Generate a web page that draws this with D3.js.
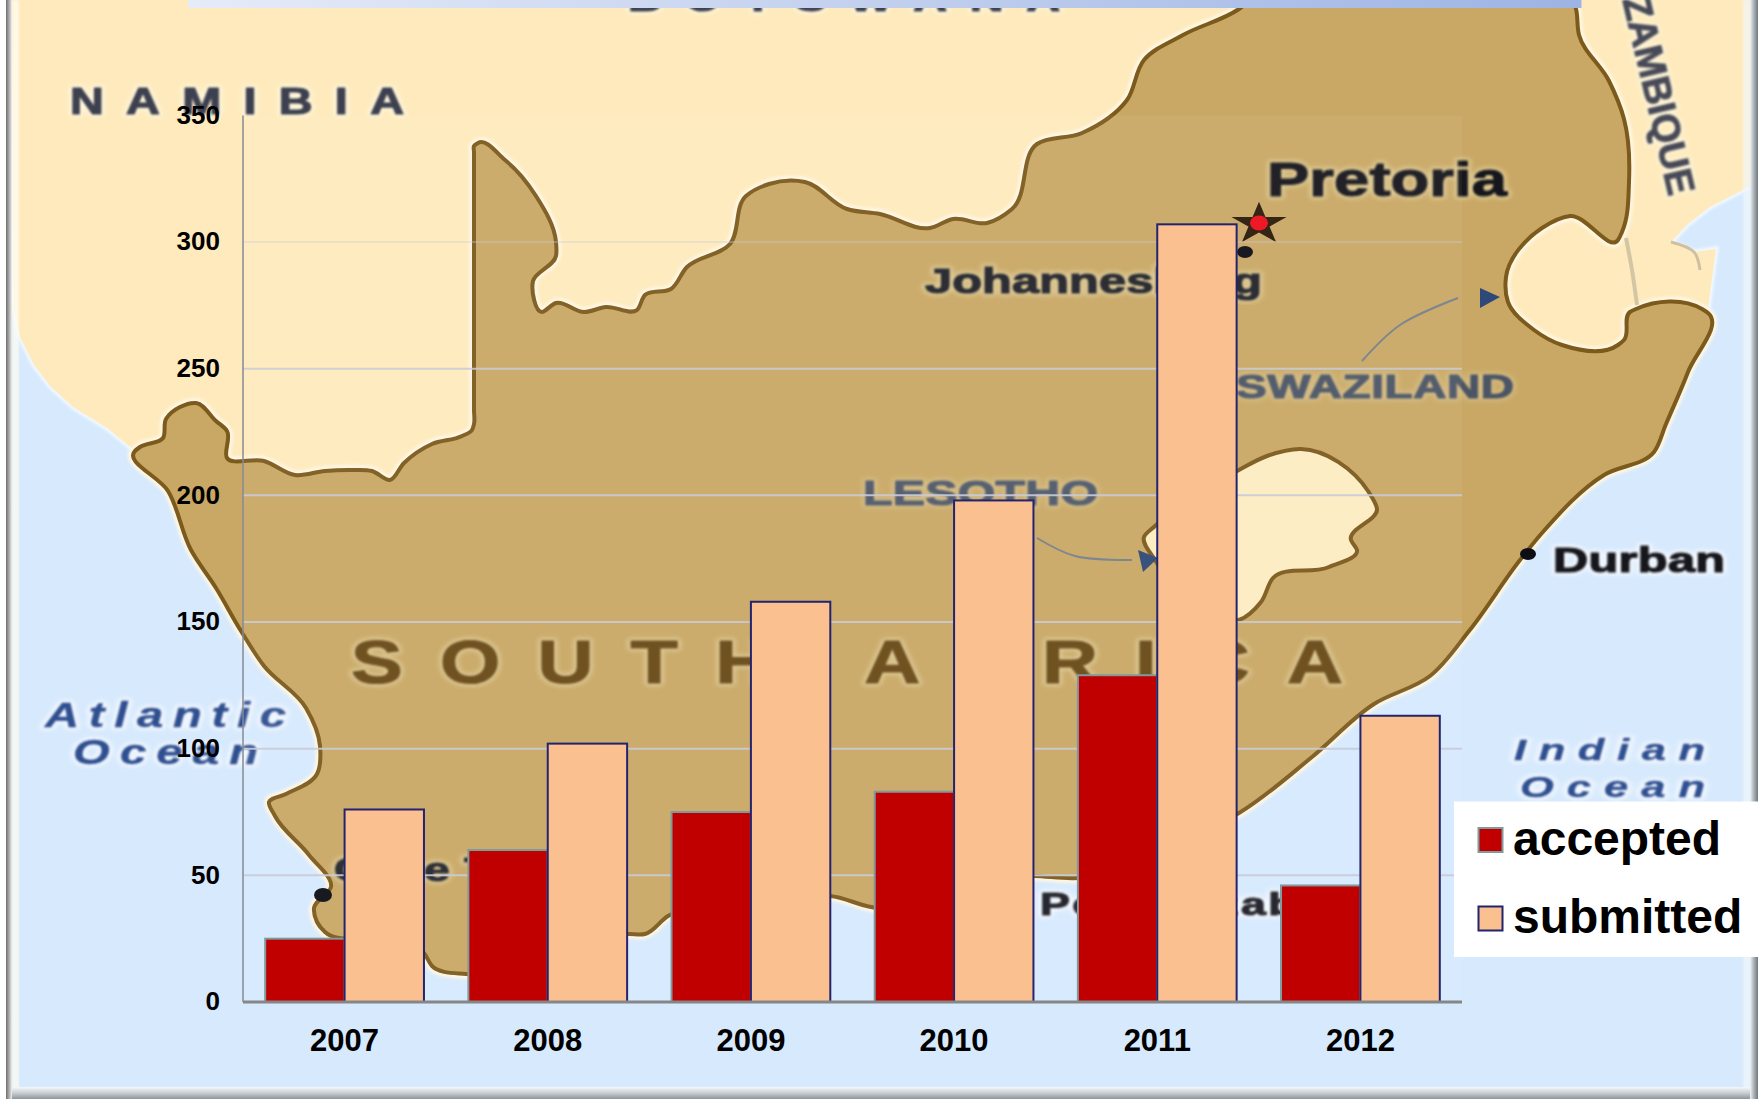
<!DOCTYPE html>
<html>
<head>
<meta charset="utf-8">
<script src="https://cdn.jsdelivr.net/npm/d3@7"></script>
<style>
html,body{margin:0;padding:0;background:#fff;}
svg{display:block;}
text{font-family:"Liberation Sans",Arial,sans-serif;}
</style>
</head>
<body>
<svg id="c" width="1758" height="1099"></svg>
<script>
// ---------- chart data ----------
const years = ["2007","2008","2009","2010","2011","2012"];
const accepted = [25,60,75,83,129,46];
const submitted = [76,102,158,198,307,113];
const seriesNames = ["accepted","submitted"];
const yTicks = [0,50,100,150,200,250,300,350];

// ---------- backdrop map outlines ----------
const paleLand = [[12,-5],[1770,-5],[1770,176],[1710,207],[1688,224],[1671,242],[1694,252],[1716,249],[1708,309],[1640,356],[1540,356],[1000,500],[474,500],[300,490],[135,451],[107,428],[73,407],[50,386],[34,365],[20,337],[14,309]];
const saOutline = [[135,451],[140,447],[163,438],[166,419],[180,407],[196,403],[216,421],[227,431],[227,458],[264,461],[295,475],[325,471],[351,470],[372,471],[390,480],[404,463],[432,444],[462,436],[472,430],[474,424],[474,410],[474,395],[474,360],[474,300],[474,240],[474,190],[474,165],[474,152],[474,146],[478,143],[505,160],[536,196],[556,242],[556,256],[533,281],[542,312],[556,303],[584,312],[606,307],[637,310],[645,295],[671,289],[687,267],[730,244],[746,196],[769,184],[805,182],[847,209],[880,214],[930,228],[953,219],[987,223],[1012,209],[1037,144],[1082,133],[1127,100],[1144,60],[1183,35],[1239,9],[1260,-8],[1570,-8],[1576,9],[1579,35],[1609,81],[1624,119],[1629,182],[1622,232],[1618,240],[1570,216],[1542,228],[1506,277],[1508,302],[1534,330],[1562,345],[1618,345],[1624,340],[1630,312],[1636,309],[1702,309],[1708,313],[1688,372],[1666,424],[1654,452],[1604,475],[1542,533],[1520,560],[1469,631],[1430,676],[1374,704],[1312,757],[1239,813],[1160,850],[1078,878],[1034,876],[950,878],[880,908],[830,896],[760,905],[668,916],[645,934],[628,934],[540,960],[466,974],[432,966],[424,953],[370,940],[325,932],[317,922],[314,908],[331,887],[309,855],[275,816],[269,802],[286,794],[317,774],[320,746],[306,708],[264,666],[241,631],[216,588],[191,550],[168,491]];
const lesotho = [[1239,470],[1267,456],[1301,449],[1368,491],[1377,509],[1351,540],[1357,550],[1329,567],[1273,578],[1261,602],[1239,620],[1190,600],[1155,560],[1144,537],[1155,526]];
const mapLabels = [
  {t:"NAMIBIA",x:70,y:114,w:334,size:36,sx:1.3,fill:"#3d414f",halo:"#fff6dc"},
  {t:"BOTSWANA",x:628,y:11,w:432,size:36,sx:1.3,fill:"#3d414f",halo:"#fff6dc"},
  {t:"Pretoria",x:1267,y:196,w:240,size:49,sx:1.29,fill:"#17171b",halo:"#dcc690"},
  {t:"Johannesburg",x:925,y:293,w:337,size:35,sx:1.39,fill:"#20222a",halo:"#dcc690"},
  {t:"SWAZILAND",x:1236,y:398,w:278,size:34,sx:1.35,fill:"#4b5566",halo:"#d3b97f"},
  {t:"LESOTHO",x:863,y:505,w:235,size:36,sx:1.34,fill:"#4f596a",halo:"#d3b97f"},
  {t:"SOUTH AFRICA",x:351,y:683,w:992,size:62,sx:1.25,fill:"#694a17",halo:"#dcc690"},
  {t:"Durban",x:1553,y:572,w:172,size:35,sx:1.39,fill:"#17171b",halo:"#f3f8ff"},
  {t:"Cape Town",x:334,y:881,w:250,size:33,sx:1.4,fill:"#23252b",halo:"#dcc690"},
  {t:"Port Elizabeth",x:1040,y:915,w:330,size:32,sx:1.4,fill:"#1d1f25",halo:"#f3f8ff"},
  {t:"Atlantic",x:45,y:727,w:241,size:35,sx:1.35,fill:"#2f4f90",halo:"#f3f8ff",it:true},
  {t:"Ocean",x:73,y:764,w:185,size:35,sx:1.35,fill:"#2f4f90",halo:"#f3f8ff",it:true},
  {t:"Indian",x:1514,y:760,w:191,size:29,sx:1.5,fill:"#2f4f90",halo:"#f3f8ff",it:true},
  {t:"Ocean",x:1520,y:797,w:185,size:29,sx:1.5,fill:"#2f4f90",halo:"#f3f8ff",it:true}
];

// ---------- scales ----------
const W = 1758, H = 1099;
const svg = d3.select("#c");
const plot = {left:243, right:1462, top:115.4, bottom:1002};
const x = d3.scaleBand().domain(years).range([plot.left,plot.right]).paddingInner(0.2186).paddingOuter(0.1093);
const xs = d3.scaleBand().domain(seriesNames).range([0,x.bandwidth()]);
const y = d3.scaleLinear().domain([0,350]).range([plot.bottom,plot.top]);
const colors = d3.scaleOrdinal().domain(seriesNames).range(["#c00000","#fac090"]);
const strokes = d3.scaleOrdinal().domain(seriesNames).range(["#7f9a9c","#23236f"]);

// ---------- defs ----------
const defs = svg.append("defs");
const mk = (id,s)=>defs.append("filter").attr("id",id).attr("x","-10%").attr("y","-10%").attr("width","120%").attr("height","120%")
  .append("feGaussianBlur").attr("stdDeviation",s);
mk("b1",0.8); mk("b2",1.6); mk("b3",0.6); mk("b4",2);
const bar = defs.append("linearGradient").attr("id","topbar");
bar.append("stop").attr("offset","0").attr("stop-color","#e6ebf8");
bar.append("stop").attr("offset","1").attr("stop-color","#9db4e4");
const lg = defs.append("linearGradient").attr("id","fl");
[["0","#6f6f6f"],["0.5","#a9a9a9"],["1","#ececec"]].forEach(d=>lg.append("stop").attr("offset",d[0]).attr("stop-color",d[1]));
const rg = defs.append("linearGradient").attr("id","fr");
[["0","#eef3f6"],["0.5","#a9b0b5"],["1","#6f7a80"]].forEach(d=>rg.append("stop").attr("offset",d[0]).attr("stop-color",d[1]));
const bg = defs.append("linearGradient").attr("id","fb").attr("x1",0).attr("x2",0).attr("y1",0).attr("y2",1);
[["0","#f4f8fb"],["0.5","#c9ced3"],["1","#8d959b"]].forEach(d=>bg.append("stop").attr("offset",d[0]).attr("stop-color",d[1]));

// ---------- backdrop map ----------
const map = svg.append("g");
map.append("rect").attr("width",W).attr("height",H).attr("fill","#d6e9fd");
const linear = d3.line().curve(d3.curveLinearClosed);
const closed = d3.line().curve(d3.curveCatmullRomClosed.alpha(1));
map.append("path").attr("d",linear(paleLand)).attr("fill","#fff8e2").attr("stroke","#f3f9ff").attr("stroke-width",5).attr("filter","url(#b2)");
map.append("path").attr("d",linear(paleLand)).attr("fill","#feeabc");
map.append("path").attr("d",closed(saOutline)).attr("fill","none").attr("stroke","#fff7e4").attr("stroke-width",10).attr("filter","url(#b2)");
map.append("path").attr("d",closed(saOutline)).attr("fill","#c9a865");
map.append("path").attr("d",closed(saOutline)).attr("fill","none").attr("stroke","#7c5a1d").attr("stroke-width",4).attr("filter","url(#b3)");
map.append("path").attr("d",closed(lesotho)).attr("fill","#fdecc2").attr("stroke","#7c5a1d").attr("stroke-width",4).attr("filter","url(#b3)");
const open = d3.line().curve(d3.curveCatmullRom);
map.append("path").attr("d",open([[474,-5],[474,142]])).attr("fill","none").attr("stroke","#d8c8a2").attr("stroke-width",6).attr("filter","url(#b3)");
map.append("path").attr("d",open([[1626,238],[1632,270],[1637,305]])).attr("fill","none").attr("stroke","#d4c6a4").attr("stroke-width",4).attr("filter","url(#b3)");
map.append("path").attr("d",open([[1671,242],[1694,252],[1700,270]])).attr("fill","none").attr("stroke","#cfc0a0").attr("stroke-width",3).attr("filter","url(#b3)");

// map arrows
map.append("path").attr("d",open([[1362,361],[1400,325],[1458,298]])).attr("fill","none").attr("stroke","#78808a").attr("stroke-width",2).attr("filter","url(#b3)");
map.append("path").attr("d",d3.line()([[1480,288],[1500,297],[1480,308]])).attr("fill","#2f4a77").attr("filter","url(#b3)");
map.append("path").attr("d",open([[1037,538],[1075,556],[1132,560]])).attr("fill","none").attr("stroke","#78808a").attr("stroke-width",2).attr("filter","url(#b3)");
map.append("path").attr("d",d3.line()([[1138,550],[1158,558],[1143,572]])).attr("fill","#2f4a77").attr("filter","url(#b3)");

// map city markers
map.append("path").attr("d",d3.symbol().type(d3.symbolStar).size(480)()).attr("transform","translate(1259,224) scale(1.3,1)").attr("fill","#2a1a08").attr("stroke","#2a1a08").attr("stroke-width",1);
map.append("ellipse").attr("cx",1259).attr("cy",223).attr("rx",9).attr("ry",7.5).attr("fill","#ee0a1e").attr("filter","url(#b3)");
[[1245,252,8,6],[1528,554,8,6],[323,895,9,7]].forEach(d=>map.append("ellipse").attr("cx",d[0]).attr("cy",d[1]).attr("rx",d[2]).attr("ry",d[3]).attr("fill","#101014").attr("filter","url(#b3)"));

// map labels: a soft halo behind a thickened, slightly blurred letter
mapLabels.forEach(d=>{
  const put = (stroke,sw,filter)=>map.append("text").attr("transform",`translate(${d.x},${d.y}) scale(${d.sx},1)`)
    .attr("font-size",d.size).attr("font-weight","bold").attr("font-style",d.it?"italic":"normal")
    .attr("textLength",d.w/d.sx).attr("lengthAdjust","spacing")
    .attr("fill",stroke===d.halo?d.halo:d.fill).attr("stroke",stroke).attr("stroke-width",sw)
    .attr("stroke-linejoin","round").attr("filter",filter).text(d.t);
  put(d.halo,6,"url(#b4)");
  put(d.fill,d.it?0.4:1.2,"url(#b1)");
});
const moz = (fill,sw,filter)=>map.append("text").attr("transform","translate(1669,197) rotate(76.7)").attr("text-anchor","end")
  .attr("font-size",38).attr("font-weight","bold").attr("fill",fill).attr("stroke",fill).attr("stroke-width",sw).attr("filter",filter).text("MOZAMBIQUE");
moz("#fff6dc",5,"url(#b4)");
moz("#474a56",1,"url(#b1)");

// plot-area wash
svg.append("rect").attr("x",plot.left).attr("y",plot.top).attr("width",plot.right-plot.left).attr("height",plot.bottom-plot.top).attr("fill","#fff").attr("opacity",0.05);

// ---------- frame ----------
svg.append("rect").attr("width",6).attr("height",H).attr("fill","#fff");
svg.append("rect").attr("x",6).attr("width",6).attr("height",H).attr("fill","url(#fl)");
svg.append("rect").attr("x",12).attr("width",7).attr("height",H).attr("fill","#fffdf2").attr("opacity",0.75).attr("filter","url(#b1)");
svg.append("rect").attr("x",1743).attr("width",8).attr("height",H).attr("fill","#f2f8fb").attr("opacity",0.7).attr("filter","url(#b1)");
svg.append("rect").attr("x",1750).attr("width",8).attr("height",H).attr("fill","url(#fr)");
svg.append("rect").attr("y",1087).attr("x",12).attr("width",1738).attr("height",12).attr("fill","url(#fb)");
svg.append("rect").attr("x",188).attr("y",0).attr("width",1393.5).attr("height",8).attr("fill","url(#topbar)");

// ---------- grid ----------
const gridOpacity = d3.scaleOrdinal().domain(yTicks).range([0,0.9,0.9,0.85,0.9,0.85,0.35,0]);
svg.append("g").selectAll("line").data(yTicks.filter(v=>v>0)).join("line")
  .attr("x1",plot.left).attr("x2",plot.right).attr("y1",d=>y(d)).attr("y2",d=>y(d))
  .attr("stroke","#c9ccd8").attr("stroke-width",2).attr("opacity",d=>gridOpacity(d));

// ---------- bars ----------
const grp = svg.append("g").selectAll("g").data(years).join("g").attr("transform",d=>`translate(${x(d)},0)`);
grp.each(function(yr,i){
  const rows = [{s:"accepted",v:accepted[i]},{s:"submitted",v:submitted[i]}];
  d3.select(this).selectAll("rect").data(rows).join("rect")
    .attr("x",d=>xs(d.s)).attr("y",d=>y(d.v)).attr("width",xs.bandwidth()).attr("height",d=>y(0)-y(d.v))
    .attr("fill",d=>colors(d.s)).attr("stroke",d=>strokes(d.s)).attr("stroke-width",2);
});

// ---------- axes ----------
const gy = svg.append("g").attr("transform",`translate(${plot.left},0)`)
  .call(d3.axisLeft(y).tickValues(yTicks).tickSize(0).tickPadding(23).offset(0));
gy.select(".domain").attr("stroke","#868a94").attr("stroke-width",1.5);
gy.selectAll("text").attr("font-size",26).attr("font-weight","bold").attr("fill","#000").attr("font-family","Liberation Sans");
const gx = svg.append("g").attr("transform",`translate(0,${plot.bottom})`)
  .call(d3.axisBottom(x).tickSize(0).tickPadding(27).offset(0));
gx.select(".domain").attr("stroke","#868686").attr("stroke-width",3);
gx.selectAll("text").attr("font-size",31).attr("font-weight","bold").attr("fill","#000").attr("font-family","Liberation Sans");

// ---------- legend ----------
const leg = svg.append("g");
leg.append("rect").attr("x",1454).attr("y",801.5).attr("width",304).attr("height",155.5).attr("fill","#fff");
const legendY = d3.scalePoint().domain(seriesNames).range([840,918.5]);
const li = leg.selectAll("g").data(seriesNames).join("g").attr("transform",d=>`translate(0,${legendY(d)})`);
li.append("rect").attr("x",1478.5).attr("y",-12).attr("width",24).attr("height",24)
  .attr("fill",d=>colors(d)).attr("stroke",d=>strokes(d)).attr("stroke-width",2);
li.append("text").attr("x",1513).attr("y",14.5).attr("font-size",48).attr("font-weight","bold").attr("fill","#000").text(d=>d);
</script>
</body>
</html>
